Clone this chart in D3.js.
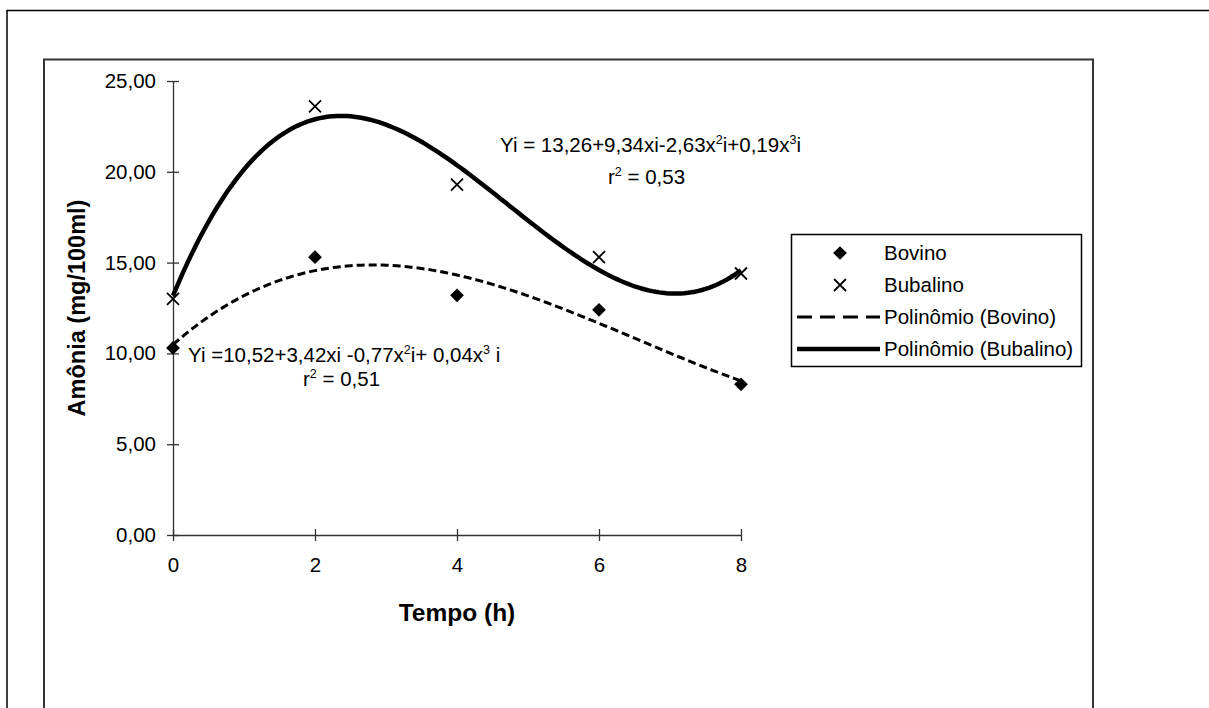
<!DOCTYPE html>
<html>
<head>
<meta charset="utf-8">
<script src="https://cdn.jsdelivr.net/npm/d3@7"></script>
<style>
  body { margin: 0; background: #fff; }
  svg { display: block; font-family: Arial, "Liberation Sans", sans-serif; }
</style>
</head>
<body>
<svg id="chart" width="1209" height="708"></svg>
<script>
// data
const hours = [0, 2, 4, 6, 8];
const bovino = [10.3, 15.3, 13.2, 12.4, 8.3];
const bubalino = [13.0, 23.6, 19.3, 15.3, 14.4];
const yTicks = [0, 5, 10, 15, 20, 25];
const xTicks = [0, 2, 4, 6, 8];

const svg = d3.select("#chart");
const fs = 20.5;

// frames around the chart (outer page box + chart area)
svg.append("path")
  .attr("d", "M7,708 V10.5 H1209")
  .attr("fill", "none").attr("stroke", "#000").attr("stroke-width", 1.5);
svg.append("path")
  .attr("d", "M44,708 V59.5 H1093 V708")
  .attr("fill", "none").attr("stroke", "#333").attr("stroke-width", 2);

const x = d3.scaleLinear().domain([0, 8]).range([173, 741]);
const y = d3.scaleLinear().domain([0, 25]).range([535, 81]);

// least squares cubic, like the Excel trendline
function polyFit(xs, ys, deg) {
  const n = deg + 1;
  const A = Array.from({ length: n }, () => new Array(n + 1).fill(0));
  xs.forEach((xv, k) => {
    for (let i = 0; i < n; i++) {
      for (let j = 0; j < n; j++) A[i][j] += Math.pow(xv, i + j);
      A[i][n] += ys[k] * Math.pow(xv, i);
    }
  });
  for (let c = 0; c < n; c++) {
    let p = c;
    for (let r = c + 1; r < n; r++) if (Math.abs(A[r][c]) > Math.abs(A[p][c])) p = r;
    [A[c], A[p]] = [A[p], A[c]];
    for (let r = 0; r < n; r++) {
      if (r === c) continue;
      const f = A[r][c] / A[c][c];
      for (let k = c; k <= n; k++) A[r][k] -= f * A[c][k];
    }
  }
  return A.map((row, i) => row[n] / row[i]);
}
const evalPoly = (co, xv) => co.reduce((s, c, i) => s + c * Math.pow(xv, i), 0);

// axes
const yAxis = svg.append("g").attr("transform", `translate(${x(0)},0)`)
  .call(d3.axisLeft(y).tickValues(yTicks).tickSizeInner(6).tickSizeOuter(0)
    .tickFormat(d => d3.format(".2f")(d).replace(".", ",")));
yAxis.selectAll(".tick line").attr("x2", 6).attr("x1", -6);
yAxis.selectAll("text").attr("x", -17).attr("font-size", fs).attr("fill", "#000");

const xAxis = svg.append("g").attr("transform", `translate(0,${y(0)})`)
  .call(d3.axisBottom(x).tickValues(xTicks).tickSizeInner(6).tickSizeOuter(0));
xAxis.selectAll(".tick line").attr("y1", -6).attr("y2", 6);
xAxis.selectAll("text").attr("y", 22).attr("font-size", fs).attr("fill", "#000");

[yAxis, xAxis].forEach(a => {
  a.attr("font-family", null);
  a.selectAll("path, line").attr("stroke", "#333").attr("stroke-width", 1.3);
});

// axis titles
svg.append("text")
  .attr("x", x(4)).attr("y", 621)
  .attr("text-anchor", "middle")
  .attr("font-size", 24.5).attr("font-weight", "bold")
  .text("Tempo (h)");
svg.append("text")
  .attr("transform", `translate(85,${(y(0) + y(25)) / 2}) rotate(-90)`)
  .attr("text-anchor", "middle")
  .attr("font-size", 23.5).attr("font-weight", "bold")
  .text("Amônia (mg/100ml)");

// trendlines
const xs = d3.range(0, 8.001, 0.05);
const line = d3.line().x(d => x(d[0])).y(d => y(d[1]));
const coBub = polyFit(hours, bubalino, 3);
const coBov = polyFit(hours, bovino, 3);

svg.append("path")
  .datum(xs.map(v => [v, evalPoly(coBov, v)]))
  .attr("d", line).attr("fill", "none")
  .attr("stroke", "#000").attr("stroke-width", 3).attr("stroke-dasharray", "8,4");
svg.append("path")
  .datum(xs.map(v => [v, evalPoly(coBub, v)]))
  .attr("d", line).attr("fill", "none")
  .attr("stroke", "#000").attr("stroke-width", 4.5);

// markers
const diamond = d3.symbol().type(d3.symbolDiamond2).size(120);
const cross = "M-6,-6L6,6M-6,6L6,-6";

svg.append("g").selectAll("path")
  .data(hours.map((h, i) => [h, bovino[i]]))
  .join("path")
  .attr("transform", d => `translate(${x(d[0])},${y(d[1])})`)
  .attr("d", diamond).attr("fill", "#000");

svg.append("g").selectAll("path")
  .data(hours.map((h, i) => [h, bubalino[i]]))
  .join("path")
  .attr("transform", d => `translate(${x(d[0])},${y(d[1])})`)
  .attr("d", cross).attr("stroke", "#000").attr("stroke-width", 1.8).attr("fill", "none");

// equations, superscripts as raised tspans
function equation(tx, ty, parts) {
  const t = svg.append("text").attr("x", tx).attr("y", ty).attr("font-size", fs);
  let back = 0;
  parts.forEach(p => {
    if (typeof p === "string") {
      t.append("tspan").attr("dy", back).text(p);
      back = 0;
    } else {
      t.append("tspan").attr("font-size", 12.5).attr("dy", -8).text(p.sup);
      back = 8;
    }
  });
  return t;
}
equation(500, 152, ["Yi = 13,26+9,34xi-2,63x", { sup: "2" }, "i+0,19x", { sup: "3" }, "i"]);
equation(608, 184, ["r", { sup: "2" }, " = 0,53"]);
equation(188, 362, ["Yi =10,52+3,42xi -0,77x", { sup: "2" }, "i+ 0,04x", { sup: "3" }, " i"]);
equation(303, 386, ["r", { sup: "2" }, " = 0,51"]);

// legend
const legendItems = ["Bovino", "Bubalino", "Polinômio (Bovino)", "Polinômio (Bubalino)"];
const lg = svg.append("g");
lg.append("rect")
  .attr("x", 791.5).attr("y", 234.5).attr("width", 290).attr("height", 132)
  .attr("fill", "#fff").attr("stroke", "#000").attr("stroke-width", 1.5);
legendItems.forEach((name, i) => {
  const cy = 253 + i * 32;
  if (i === 0) lg.append("path").attr("transform", `translate(840,${cy})`).attr("d", diamond);
  if (i === 1) lg.append("path").attr("transform", `translate(840,${cy})`).attr("d", cross)
    .attr("stroke", "#000").attr("stroke-width", 1.8);
  if (i === 2) lg.append("line").attr("x1", 797).attr("x2", 880).attr("y1", cy).attr("y2", cy)
    .attr("stroke", "#000").attr("stroke-width", 3).attr("stroke-dasharray", "15,8");
  if (i === 3) lg.append("line").attr("x1", 797).attr("x2", 880).attr("y1", cy).attr("y2", cy)
    .attr("stroke", "#000").attr("stroke-width", 4.5);
  lg.append("text").attr("x", 884).attr("y", cy + 7).attr("font-size", fs).text(name);
});
</script>
</body>
</html>
